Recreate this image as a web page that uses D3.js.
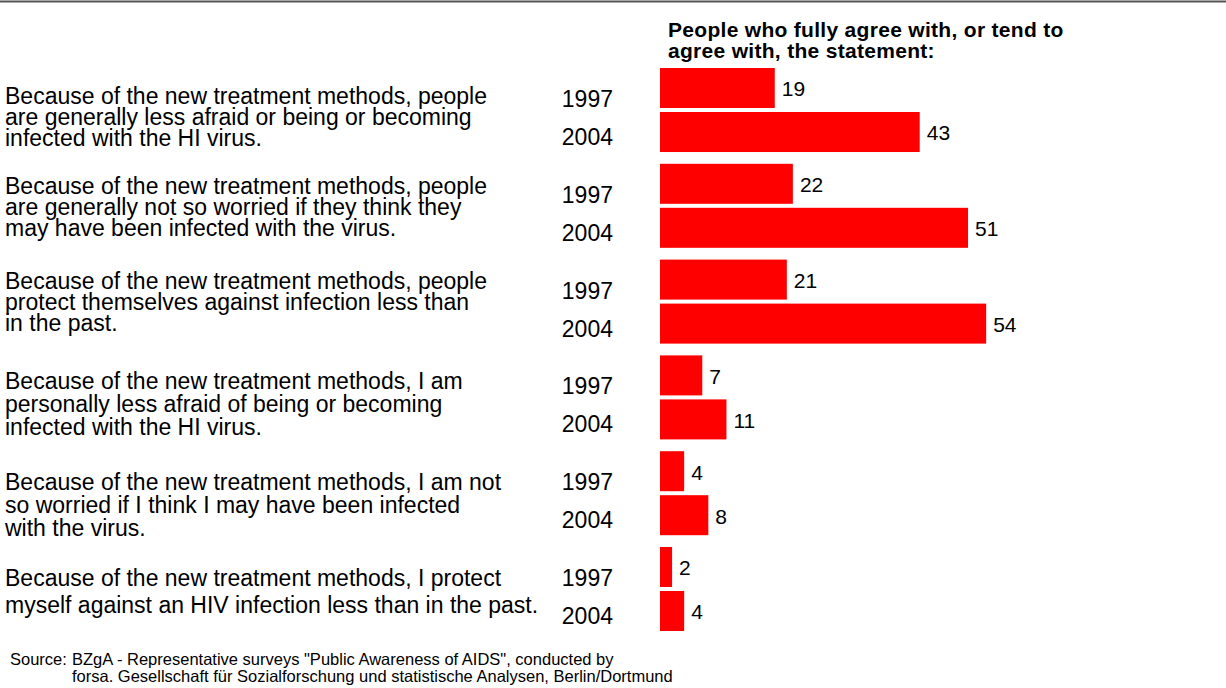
<!DOCTYPE html>
<html>
<head>
<meta charset="utf-8">
<script src="https://cdn.jsdelivr.net/npm/d3@7"></script>
<style>
  html, body { margin: 0; padding: 0; background: #fff; }
  svg { display: block; font-family: "Liberation Sans", Arial, Helvetica, sans-serif; }
</style>
</head>
<body>
<svg id="chart" width="1226" height="688"></svg>
<script>
// Survey statements (each split into its printed lines)
const statements = [
  ["Because of the new treatment methods, people",
   "are generally less afraid or being or becoming",
   "infected with the HI virus."],
  ["Because of the new treatment methods, people",
   "are generally not so worried if they think they",
   "may have been infected with the virus."],
  ["Because of the new treatment methods, people",
   "protect themselves against infection less than",
   "in the past."],
  ["Because of the new treatment methods, I am",
   "personally less afraid of being or becoming",
   "infected with the HI virus."],
  ["Because of the new treatment methods, I am not",
   "so worried if I think I may have been infected",
   "with the virus."],
  ["Because of the new treatment methods, I protect",
   "myself against an HIV infection less than in the past."]
];
const years = ["1997", "2004"];
const values1997 = [19, 22, 21, 7, 4, 2];
const values2004 = [43, 51, 54, 11, 8, 4];
const headerLines = ["People who fully agree with, or tend to", "agree with, the statement:"];
const sourceLines = [
  "BZgA - Representative surveys \"Public Awareness of AIDS\", conducted by",
  "forsa. Gesellschaft für Sozialforschung und statistische Analysen, Berlin/Dortmund"
];

// Per-statement text block placement: [first line centre below group top, line step]
const statementLayout = [[28, 21], [22, 21], [21, 21], [26, 23], [31, 23], [31, 27]];

const svg = d3.select("#chart");
const W = 1226;

const groupIds = d3.range(statements.length);
const y = d3.scaleBand().domain(groupIds).range([68, 631]).paddingInner(0.123).paddingOuter(0);
const yInner = d3.scaleBand().domain(years).range([0, y.bandwidth()]).paddingInner(0.0909);
const x = d3.scaleLinear().domain([0, 54]).range([660, 660 + 54 * 6.04]);

// top rule
svg.append("line")
  .attr("x1", 0).attr("x2", W).attr("y1", 1.5).attr("y2", 1.5)
  .attr("stroke", "#555").attr("stroke-width", 2);

// header
svg.append("g").selectAll("text").data(headerLines).join("text")
  .attr("x", 668).attr("y", (d, i) => 37 + i * 21)
  .attr("font-size", 21).attr("font-weight", "bold")
  .attr("letter-spacing", 0.3).attr("fill", "#000")
  .text(d => d);

const rows = groupIds.map(i => ({
  i, lines: statements[i],
  vals: [{ year: years[0], v: values1997[i] }, { year: years[1], v: values2004[i] }]
}));

const g = svg.append("g").selectAll("g.row").data(rows).join("g")
  .attr("class", "row")
  .attr("transform", d => `translate(0,${y(d.i)})`);

// statement text
g.each(function (d) {
  const [top, step] = statementLayout[d.i];
  d3.select(this).selectAll("text.stmt").data(d.lines).join("text")
    .attr("class", "stmt")
    .attr("x", 5)
    .attr("y", (l, k) => top + k * step)
    .attr("dy", "0.35em")
    .attr("font-size", 23).attr("fill", "#000")
    .text(l => l);
});

// year labels
g.selectAll("text.year").data(d => d.vals).join("text")
  .attr("class", "year")
  .attr("x", 613).attr("text-anchor", "end")
  .attr("y", (v, k) => k === 0 ? 31 : 69)
  .attr("dy", "0.35em")
  .attr("font-size", 23).attr("fill", "#000")
  .text(v => v.year);

// bars
g.selectAll("rect").data(d => d.vals).join("rect")
  .attr("x", x(0))
  .attr("y", v => yInner(v.year))
  .attr("width", v => x(v.v) - x(0))
  .attr("height", yInner.bandwidth())
  .attr("fill", "#ff0000");

// value labels
g.selectAll("text.val").data(d => d.vals).join("text")
  .attr("class", "val")
  .attr("x", v => x(v.v) + 7)
  .attr("y", v => yInner(v.year) + yInner.bandwidth() / 2 + 1)
  .attr("dy", "0.35em")
  .attr("font-size", 21).attr("fill", "#000")
  .text(v => v.v);

// source note
svg.append("text").attr("x", 10).attr("y", 665).attr("font-size", 16.5).text("Source:");
svg.append("g").selectAll("text").data(sourceLines).join("text")
  .attr("x", 72).attr("y", (d, i) => 665 + i * 17)
  .attr("font-size", 16.5).attr("fill", "#000")
  .text(d => d);
</script>
</body>
</html>
